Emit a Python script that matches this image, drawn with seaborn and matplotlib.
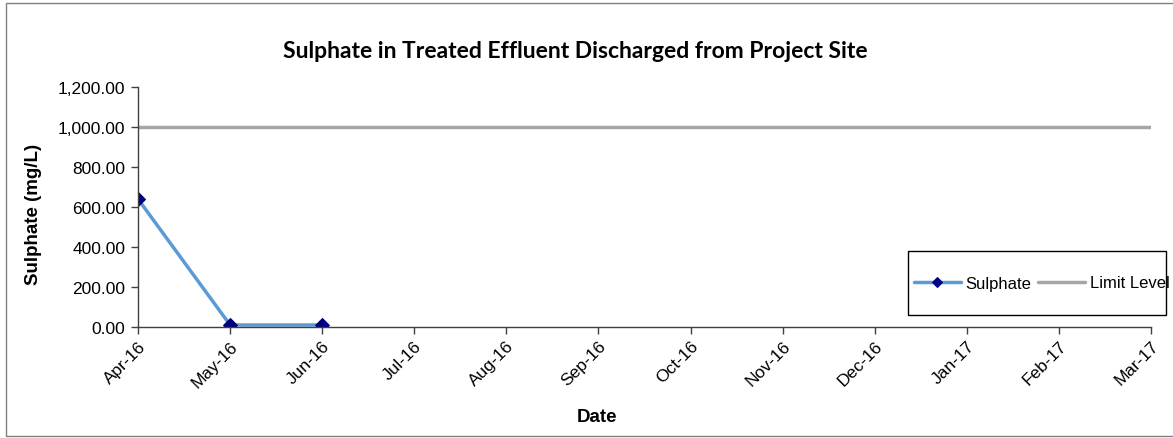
import pandas as pd
import matplotlib.pyplot as plt
import seaborn as sns
from matplotlib.ticker import FuncFormatter
from matplotlib.patches import Rectangle

# data
months = ['Apr-16', 'May-16', 'Jun-16', 'Jul-16', 'Aug-16', 'Sep-16',
          'Oct-16', 'Nov-16', 'Dec-16', 'Jan-17', 'Feb-17', 'Mar-17']
sulphate_months = ['Apr-16', 'May-16', 'Jun-16']
sulphate = [640, 10, 10]
limit_level = [1000] * 12

sns.set_style('white')
plt.rcParams['font.family'] = ['Liberation Sans', 'DejaVu Sans']
plt.rcParams['text.color'] = 'black'
plt.rcParams['axes.labelcolor'] = 'black'
plt.rcParams['xtick.color'] = 'black'
plt.rcParams['ytick.color'] = 'black'

df_limit = pd.DataFrame({'Date': months, 'Value': limit_level})
df_sul = pd.DataFrame({'Date': sulphate_months, 'Value': sulphate})

W, H = 1173, 439
fig = plt.figure(figsize=(W / 100, H / 100), dpi=100)
ax = fig.add_axes([138 / W, 1 - 328 / H, (1151 - 138) / W, (328 - 88) / H])

# limit line first so categorical order covers all months
sns.lineplot(data=df_limit, x='Date', y='Value', ax=ax, color='#a6a6a6',
             linewidth=2.5, sort=False, label='Limit Level')
sns.lineplot(data=df_sul, x='Date', y='Value', ax=ax, color='#5b9bd5',
             linewidth=2.5, marker='D', markersize=7, markerfacecolor='#000080',
             markeredgecolor='#000080', sort=False, label='Sulphate')

ax.set_xlim(0, len(months) - 1)
ax.set_ylim(0, 1200)
ax.set_yticks(range(0, 1201, 200))
ax.yaxis.set_major_formatter(FuncFormatter(lambda v, p: f'{v:,.2f}'))
ax.set_xticks(range(len(months)))
ax.set_xticklabels(months, rotation=45, ha='right', rotation_mode='anchor', fontsize=12.5)
ax.tick_params(axis='y', labelsize=12.5, length=5, width=1, color='#404040', direction='out', left=True, pad=4)
ax.tick_params(axis='x', length=5, width=1, color='#404040', direction='out', bottom=True, pad=3)

for s in ['top', 'right']:
    ax.spines[s].set_visible(False)
for s in ['left', 'bottom']:
    ax.spines[s].set_color('#404040')
    ax.spines[s].set_linewidth(1)

ax.set_xlabel('Date', fontsize=13.5, fontweight='bold', va='center')
ax.set_ylabel('Sulphate (mg/L)', fontsize=13.5, fontweight='bold', va='center')
ax.xaxis.set_label_coords((597 - 138) / (1151 - 138), (328 - 417) / 240)
ax.yaxis.set_label_coords((33 - 138) / (1151 - 138), (328 - 214) / 240)

fig.text(575 / W, 1 - 52 / H, 'Sulphate in Treated Effluent Discharged from Project Site',
         ha='center', va='center', fontsize=16.5, fontweight='bold',
         family=['Lato', 'DejaVu Sans'])

# legend, Sulphate first (frame drawn separately so it can be taller than wide padding)
h, l = ax.get_legend_handles_labels()
leg = ax.legend([h[1], h[0]], [l[1], l[0]], loc='center left', ncol=2,
                bbox_to_anchor=(914 / W, 1 - 284 / H), bbox_transform=fig.transFigure,
                frameon=False, fontsize=12, handlelength=2.8, handletextpad=0.3,
                columnspacing=0.4, borderpad=0, borderaxespad=0)
leg.legend_handles[0].set_markersize(5)
leg.set_zorder(6)

ax.add_patch(Rectangle((908 / W, 1 - 316 / H), 258 / W, 64 / H,
                       transform=fig.transFigure, facecolor='white',
                       edgecolor='black', linewidth=1, zorder=5, clip_on=False))

# outer chart border, cut off on the right
fig.patches.append(Rectangle((6 / W, 2 / H), 1180 / W, 433 / H,
                             transform=fig.transFigure, fill=False,
                             edgecolor='#808080', linewidth=1))

fig.savefig('out.png', dpi=100)
